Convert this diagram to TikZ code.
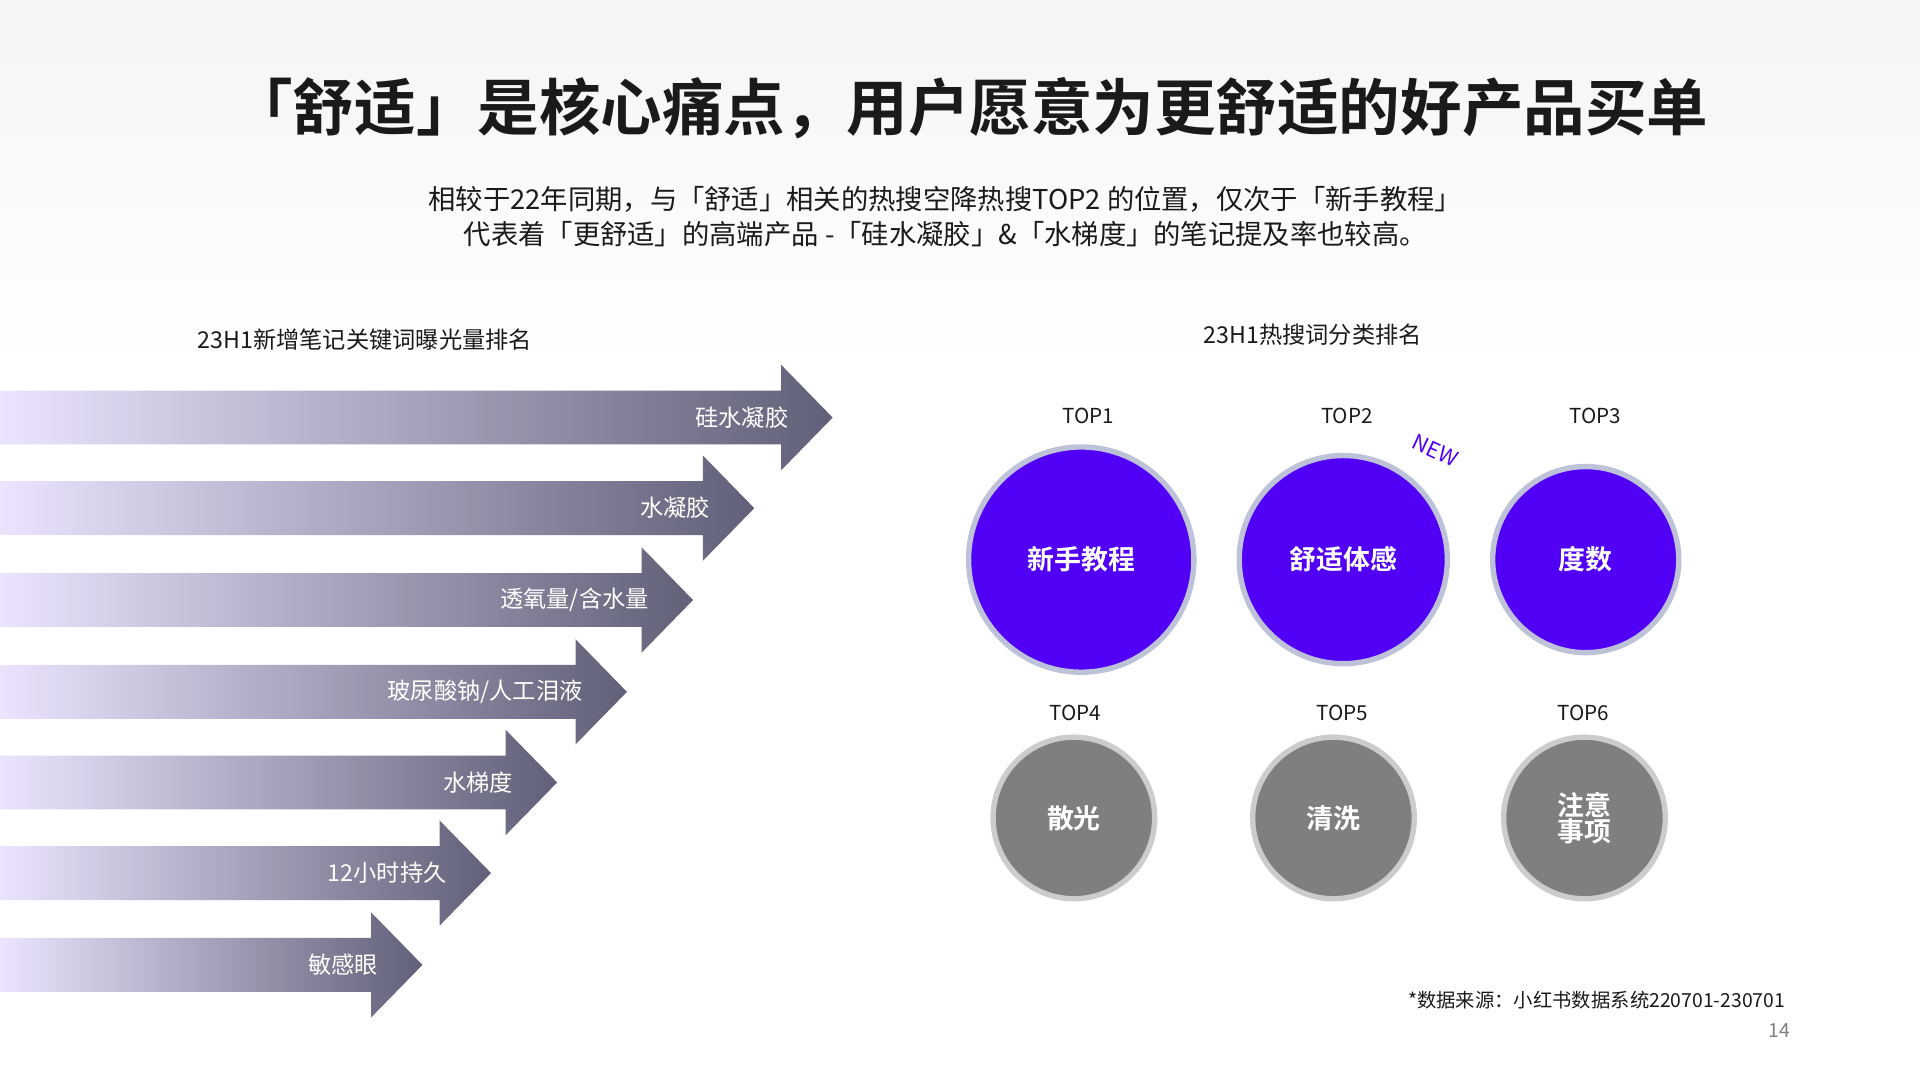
\documentclass[tikz,border=0pt]{standalone}
\usepackage{fontspec}
\setmainfont{Noto Sans CJK SC}
\newfontfamily\cjkbold{Noto Sans CJK SC Bold}
\usetikzlibrary{positioning}
\definecolor{violetmain}{HTML}{5200F5}
\definecolor{arrowend}{HTML}{606078}
\definecolor{arrowmid}{HTML}{A69CCB}
\definecolor{arrowstart}{HTML}{ECE4FE}
\definecolor{textdark}{HTML}{1A1A1A}
\definecolor{graydot}{HTML}{7F7F7F}

\begin{document}
\begin{tikzpicture}[x=0.02cm,y=-0.02cm,
  toplabel/.style={font=\fontsize{9.6}{11}\selectfont,text=textdark},
  hotdot/.style={circle,fill=violetmain,draw=cyan!45!violet!40,line width=2.5pt,text=white,font=\cjkbold\fontsize{12.5}{15}\selectfont},
  greydot/.style={circle,fill=graydot,draw=gray!40,line width=2.5pt,text=white,font=\cjkbold\fontsize{12.5}{15}\selectfont,minimum size=132*0.02cm,align=center},
  arrowlabel/.style={anchor=east,text=white,font=\fontsize{10.8}{13}\selectfont}]
\useasboundingbox (0,0) rectangle (1568,882);
\shade[top color=gray!8,bottom color=white] (0,0) rectangle (1568,300);

% title and subtitle
\node[font=\cjkbold\fontsize{28.6}{33}\selectfont,text=textdark] (title) at (792,88) {「舒适」是核心痛点，用户愿意为更舒适的好产品买单};
\node[font=\fontsize{12.7}{16}\selectfont,text=textdark,align=center] (subtitle) at (772,177)
  {相较于22年同期，与「舒适」相关的热搜空降热搜TOP2 的位置，仅次于「新手教程」\\代表着「更舒适」的高端产品 -「硅水凝胶」\&「水梯度」的笔记提及率也较高。};

% left ranking
\node[font=\fontsize{10.8}{13}\selectfont,text=textdark] (lefthead) at (298,277) {23H1新增笔记关键词曝光量排名};
\foreach \yy/\tip/\lab [count=\i] in {341/680/{硅水凝胶},415/616/{水凝胶},490/566/{透氧量/含水量},565/512/{玻尿酸钠/人工泪液},639/455/{水梯度},713/401/{12小时持久},788/345/{敏感眼}}{
  \shade[left color=arrowstart,middle color=arrowmid,right color=arrowend]
    (0,\yy-22) -- (\tip-42,\yy-22) -- (\tip-42,\yy-43) -- (\tip,\yy) -- (\tip-42,\yy+43) -- (\tip-42,\yy+22) -- (0,\yy+22) -- cycle;
  \node[arrowlabel] (kw\i) at (\tip-30,\yy) {\lab};
}

% right ranking
\node[font=\fontsize{10.8}{13}\selectfont,text=textdark] (righthead) at (1072,273) {23H1热搜词分类排名};
\node[hotdot,minimum size=184*0.02cm] (top1) at (883,457) {新手教程};
\node[hotdot,minimum size=170*0.02cm] (top2) at (1097,457) {舒适体感};
\node[hotdot,minimum size=152*0.02cm] (top3) at (1295,457) {度数};
\node[greydot] (top4) at (877,668) {散光};
\node[greydot] (top5) at (1089,668) {清洗};
\node[greydot] (top6) at (1294,668) {注意\\[-3pt]事项};
\node[toplabel] (lab1) at (889,340) {TOP1};
\node[toplabel] (lab2) at (1100,340) {TOP2};
\node[toplabel] (lab3) at (1303,340) {TOP3};
\node[toplabel] (lab4) at (878,582) {TOP4};
\node[toplabel] (lab5) at (1096,582) {TOP5};
\node[toplabel] (lab6) at (1293,582) {TOP6};
\node[rotate=-25,text=violetmain,font=\fontsize{10}{12}\selectfont\itshape,inner sep=0pt] (new) at (1172,368) {NEW};

% footer
\node[anchor=east,font=\fontsize{9}{11}\selectfont,text=textdark] (source) at (1464,817) {*数据来源：小红书数据系统220701-230701};
\node[anchor=east,font=\fontsize{9}{11}\selectfont,text=gray] (page) at (1468,842) {14};
\end{tikzpicture}
\end{document}
